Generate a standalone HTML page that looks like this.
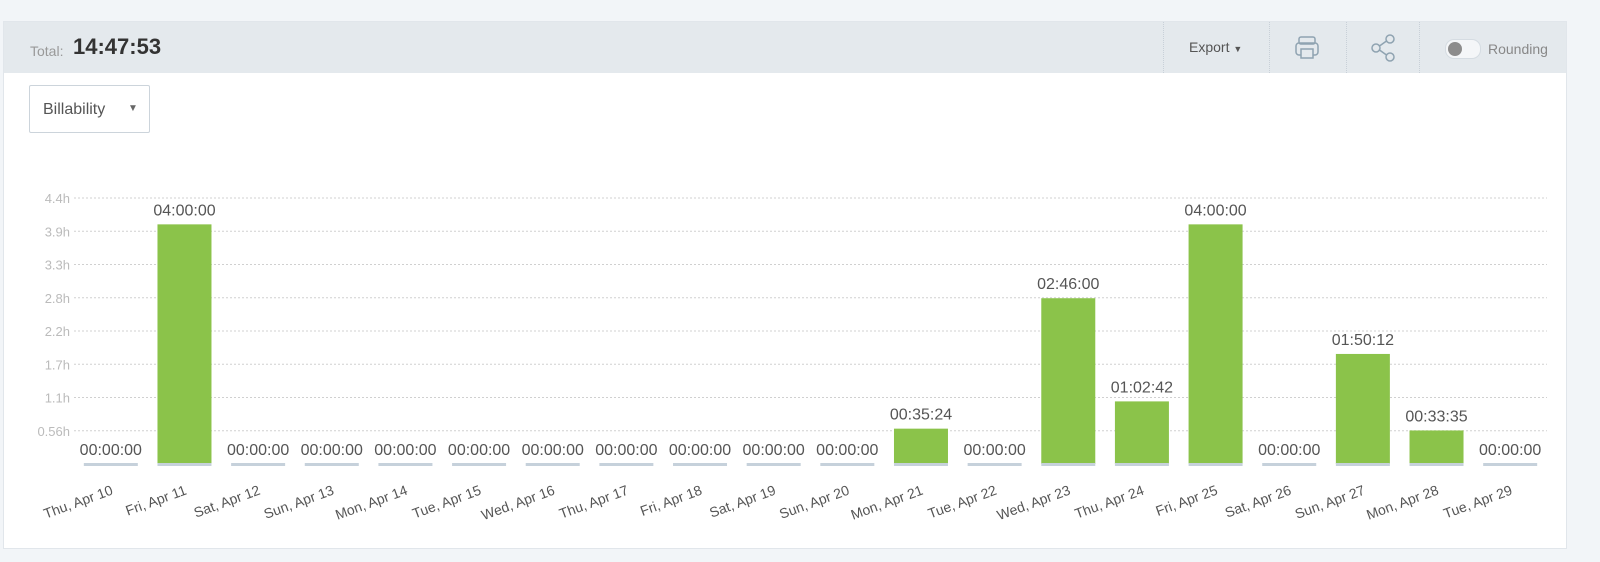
<!DOCTYPE html>
<html><head><meta charset="utf-8">
<style>
body{margin:0;width:1600px;height:562px;background:#f2f5f8;font-family:"Liberation Sans",sans-serif;overflow:hidden;position:relative}
.card{position:absolute;left:3px;top:21px;width:1564px;height:528px;background:#fff;border:1px solid #e1e6eb;box-sizing:border-box}
.hdr{position:absolute;left:0;top:0;width:100%;height:51px;background:#e4e9ed}
.sep{position:absolute;top:0;height:51px;border-left:1px dotted #c8d0d8}
</style></head><body>
<div class="card">
 <div class="hdr">
  <span style="position:absolute;left:26px;top:21px;font-size:14px;color:#999">Total:</span>
  <span style="position:absolute;left:69px;top:12px;font-size:22px;font-weight:bold;color:#333">14:47:53</span>
  <div class="sep" style="left:1159px"></div><div class="sep" style="left:1265px"></div><div class="sep" style="left:1342px"></div><div class="sep" style="left:1415px"></div>
  <span style="position:absolute;left:1185px;top:17px;font-size:14px;color:#555">Export <span style="font-size:9px">▼</span></span>
  <svg style="position:absolute;left:1290px;top:13px" width="26" height="26"><rect x="5" y="2" width="16" height="7" rx="2" fill="none" stroke="#8fa3b1" stroke-width="1.5"/><rect x="2" y="8" width="22" height="12" rx="3" fill="none" stroke="#8fa3b1" stroke-width="1.5"/><rect x="7" y="14" width="12" height="9" fill="#e4e9ed" stroke="#8fa3b1" stroke-width="1.5"/></svg>
  <svg style="position:absolute;left:1366px;top:12px" width="28" height="28"><g fill="none" stroke="#8fa3b1" stroke-width="1.5"><circle cx="20" cy="5" r="4"/><circle cx="6" cy="14" r="4"/><circle cx="20" cy="23" r="4"/><path d="M9.5 12L16.5 7M9.5 16L16.5 21"/></g></svg>
  <div style="position:absolute;left:1441px;top:17px;width:34px;height:18px;border-radius:9px;background:#f4f6f8;border:1px solid #d5dce2"><div style="position:absolute;left:2px;top:2px;width:14px;height:14px;border-radius:7px;background:#8c8c8c"></div></div>
  <span style="position:absolute;left:1484px;top:19px;font-size:14px;color:#888">Rounding</span>
 </div>
 <div style="position:absolute;left:25px;top:63px;width:121px;height:48px;border:1px solid #ccd4db;border-radius:2px;box-sizing:border-box">
  <span style="position:absolute;left:13px;top:15px;font-size:16px;color:#555">Billability</span>
  <span style="position:absolute;left:98px;top:17px;font-size:10px;color:#666">▼</span>
 </div>
</div>
<svg id="chart" style="position:absolute;left:0;top:0" width="1600" height="562"></svg>
<script>
const categories=["Thu, Apr 10","Fri, Apr 11","Sat, Apr 12","Sun, Apr 13","Mon, Apr 14","Tue, Apr 15","Wed, Apr 16","Thu, Apr 17","Fri, Apr 18","Sat, Apr 19","Sun, Apr 20","Mon, Apr 21","Tue, Apr 22","Wed, Apr 23","Thu, Apr 24","Fri, Apr 25","Sat, Apr 26","Sun, Apr 27","Mon, Apr 28","Tue, Apr 29"];
const hours=[0,4,0,0,0,0,0,0,0,0,0,0.59,0,2.767,1.045,4,0,1.837,0.56,0];
const valueLabels=["00:00:00","04:00:00","00:00:00","00:00:00","00:00:00","00:00:00","00:00:00","00:00:00","00:00:00","00:00:00","00:00:00","00:35:24","00:00:00","02:46:00","01:02:42","04:00:00","00:00:00","01:50:12","00:33:35","00:00:00"];
const tickValues=[0.555,1.11,1.665,2.22,2.775,3.33,3.885,4.44];
const tickLabels=["0.56h","1.1h","1.7h","2.2h","2.8h","3.3h","3.9h","4.4h"];
const NS="http://www.w3.org/2000/svg",svg=document.getElementById('chart');
const L=74,R=1547,B=464,T=198,maxV=4.44;
const y=v=>B-(v/maxV)*(B-T);
const band=(R-L)/categories.length;
const x=i=>L+band*(i+0.5);
function mk(t,a,txt){const e=document.createElementNS(NS,t);for(const k in a)e.setAttribute(k,a[k]);if(txt!=null)e.textContent=txt;svg.appendChild(e);return e;}
tickValues.forEach((v,i)=>{
 const g=mk('line',{x1:L,x2:R,y1:y(v),y2:y(v),stroke:'#d0d0d0','stroke-dasharray':'2,2'});
 
 
 const t=mk('text',{x:L-4,y:y(v)+5,'text-anchor':'end','font-size':13,fill:'#bbb','font-family':'Liberation Sans'},tickLabels[i]);
 
 
});
categories.forEach((c,i)=>{
 const cx=x(i),w=54,h=B-y(hours[i]);
 if(hours[i]>0){
  const b=mk('rect',{x:cx-w/2,y:y(hours[i]),width:w,height:h,fill:'#8bc34a'});
  
  
 }
 const base=mk('rect',{x:cx-w/2,y:B-1,width:w,height:3,fill:'#c6d1db'});
 
 
 const vl=mk('text',{x:cx,y:y(hours[i])-9,'text-anchor':'middle','font-size':16,fill:'#555','font-family':'Liberation Sans'},valueLabels[i]);
 
 
 const xl=mk('text',{x:cx+3,y:494,'text-anchor':'end','font-size':14,fill:'#555','font-family':'Liberation Sans',transform:`rotate(-20 ${cx+3} 494)`},c);
 
 
});
</script>
</body></html>
